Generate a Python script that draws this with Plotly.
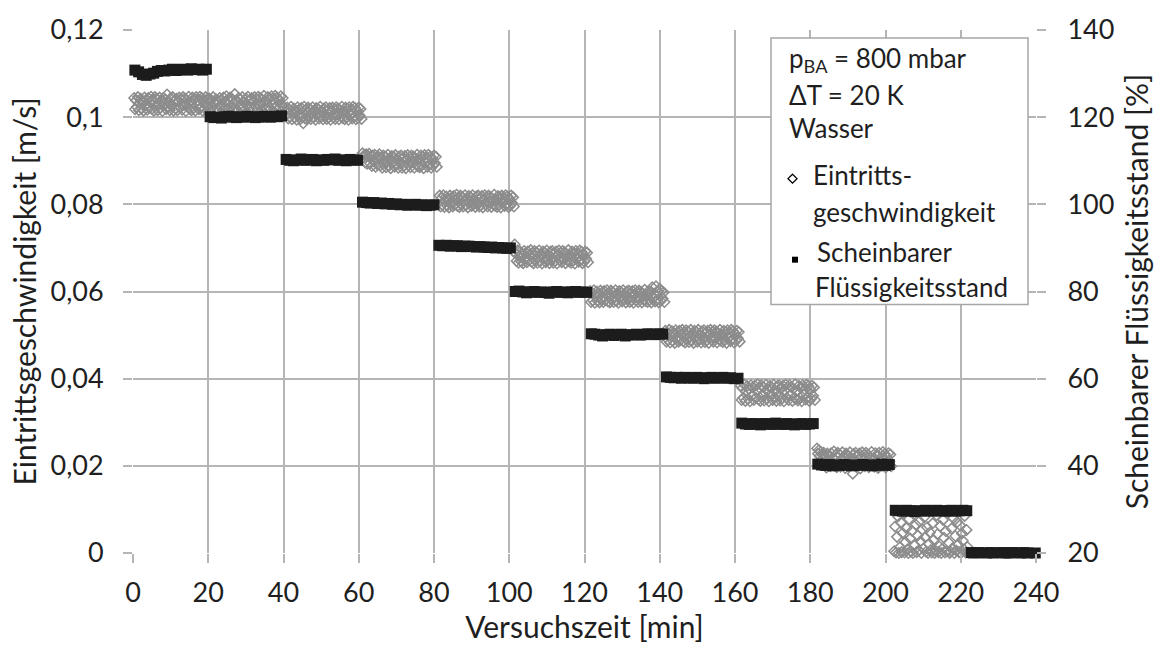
import plotly.graph_objects as go

# ---------------------------------------------------------------------------
# Eintrittsgeschwindigkeit: readings in 1e-4 m/s, one reading every 0.25 min
# ---------------------------------------------------------------------------
VEL_INTERVAL = 0.25  # min
vel_start = [0.3, 20.3, 41.0, 61.0, 81.5, 101.2, 121.5, 141.5, 161.5, 181.8, 202.3]

vel_000 = [1044, 1018, 1038, 1024, 1046, 1016, 1033, 1042, 1020, 1036, 1015, 1045, 1027, 1040, 1017, 1044, 1022, 1035, 1047, 1019,
           1039, 1015, 1046, 1026, 1043, 1016, 1032, 1045, 1021, 1037, 1014, 1044, 1029, 1041, 1018, 1052, 1023, 1034, 1016, 1044,
           1025, 1046, 1015, 1038, 1020, 1042, 1016, 1036, 1045, 1022, 1040, 1017, 1046, 1028, 1043, 1014, 1039, 1024, 1047, 1019,
           1035, 1016, 1045, 1021, 1041, 1015, 1046, 1027, 1038, 1018, 1047, 1023, 1044, 1015, 1037, 1020, 1046, 1026, 1042, 1017]
vel_020 = [1043, 1017, 1039, 1023, 1046, 1015, 1035, 1041, 1019, 1037, 1016, 1044, 1026, 1040, 1014, 1045, 1021, 1036, 1048, 1018,
           1040, 1016, 1045, 1025, 1042, 1017, 1033, 1053, 1020, 1038, 1015, 1044, 1028, 1041, 1019, 1046, 1022, 1035, 1017, 1043,
           1027, 1047, 1018, 1039, 1022, 1044, 1017, 1037, 1046, 1024, 1041, 1019, 1047, 1029, 1044, 1016, 1040, 1026, 1049, 1021,
           1037, 1019, 1046, 1023, 1043, 1018, 1048, 1029, 1040, 1021, 1049, 1025, 1045, 1019, 1039, 1023, 1048, 1028, 1044, 1022]
vel_040 = [1022, 997, 1016, 1001, 1024, 995, 1011, 1020, 999, 1014, 994, 1023, 1005, 1018, 996, 1021, 1000, 986, 1024, 997,
           1017, 995, 1022, 1004, 1019, 996, 1010, 1023, 999, 1015, 994, 1021, 1007, 1018, 997, 1024, 1001, 1013, 995, 1020,
           1003, 1023, 996, 1016, 999, 1021, 994, 1014, 1022, 1000, 1018, 996, 1023, 1006, 1020, 995, 1016, 1002, 1024, 998,
           1013, 995, 1022, 1000, 1019, 994, 1023, 1005, 1016, 997, 1024, 1001, 1021, 995, 1015, 998, 1022, 1004, 1019, 996]
vel_060 = [917, 908, 913, 896, 915, 893, 910, 916, 894, 911, 888, 912, 899, 914, 886, 906, 891, 909, 915, 889,
           907, 884, 912, 895, 910, 885, 900, 914, 888, 905, 883, 911, 897, 909, 886, 913, 891, 903, 884, 910,
           894, 912, 884, 906, 889, 911, 883, 904, 913, 890, 908, 885, 912, 897, 910, 884, 906, 892, 914, 887,
           903, 885, 912, 890, 909, 883, 913, 896, 906, 886, 914, 892, 910, 884, 905, 889, 912, 895, 909, 886]
vel_080 = [820, 795, 814, 799, 821, 794, 809, 818, 797, 813, 793, 820, 803, 816, 795, 819, 799, 811, 822, 796,
           815, 794, 820, 802, 817, 795, 808, 821, 798, 812, 793, 819, 805, 816, 796, 821, 800, 810, 794, 818,
           802, 820, 795, 814, 798, 819, 793, 811, 821, 799, 816, 795, 820, 804, 817, 794, 813, 800, 822, 797,
           811, 794, 819, 799, 816, 793, 820, 804, 813, 796, 821, 800, 818, 794, 812, 797, 820, 803, 816, 795]
vel_100 = [692, 708, 687, 670, 694, 666, 681, 691, 668, 686, 665, 693, 675, 689, 667, 692, 671, 684, 695, 668,
           688, 665, 693, 674, 690, 666, 680, 694, 669, 685, 664, 692, 677, 689, 667, 694, 672, 683, 665, 691,
           673, 693, 666, 687, 670, 692, 664, 684, 694, 671, 689, 667, 693, 676, 690, 665, 686, 672, 695, 669,
           683, 666, 692, 671, 689, 664, 693, 676, 686, 668, 694, 672, 691, 665, 685, 669, 692, 675, 689, 667]
vel_120 = [601, 576, 596, 580, 603, 574, 590, 600, 578, 595, 575, 602, 584, 598, 576, 601, 580, 593, 603, 577,
           597, 575, 602, 583, 599, 576, 589, 603, 578, 594, 574, 601, 586, 598, 577, 603, 581, 592, 575, 600,
           583, 602, 576, 596, 579, 601, 574, 593, 603, 580, 598, 576, 602, 585, 599, 575, 595, 581, 604, 578,
           592, 576, 601, 580, 598, 575, 610, 585, 595, 577, 612, 581, 600, 575, 606, 578, 601, 584, 598, 576]
vel_140 = [510, 485, 505, 489, 512, 483, 499, 509, 487, 504, 482, 511, 493, 507, 485, 510, 489, 502, 512, 486,
           506, 483, 511, 492, 508, 484, 498, 512, 487, 503, 482, 510, 495, 507, 485, 512, 490, 501, 483, 509,
           492, 511, 484, 505, 488, 510, 482, 502, 512, 489, 507, 485, 511, 494, 508, 483, 504, 490, 512, 487,
           501, 484, 510, 489, 507, 482, 511, 494, 504, 486, 512, 490, 509, 483, 503, 487, 510, 493, 507, 485]
vel_160 = [384, 351, 378, 356, 386, 349, 370, 383, 354, 376, 348, 385, 361, 380, 351, 384, 356, 374, 387, 352,
           379, 349, 385, 360, 381, 350, 368, 386, 354, 375, 348, 384, 364, 380, 351, 386, 357, 372, 349, 383,
           360, 385, 350, 377, 355, 384, 348, 373, 386, 356, 380, 351, 385, 362, 381, 349, 377, 357, 387, 353,
           372, 350, 384, 356, 380, 348, 385, 363, 376, 352, 386, 357, 383, 349, 375, 354, 384, 361, 380, 351]
vel_180 = [240, 228, 236, 222, 232, 205, 225, 230, 201, 221, 196, 228, 210, 224, 199, 229, 205, 218, 233, 200,
           225, 197, 230, 209, 226, 198, 215, 231, 202, 220, 195, 228, 212, 223, 199, 231, 205, 217, 182, 227,
           208, 230, 198, 222, 203, 228, 194, 218, 231, 204, 225, 199, 230, 211, 226, 197, 221, 206, 232, 201,
           216, 198, 229, 204, 225, 195, 230, 211, 219, 200, 232, 206, 227, 196, 220, 202, 229, 210, 226, 199]
vel_200 = [4, 61, 1, 37, 84, 0, 13, 70, 2, 46, 92, 1, 25, 57, 8, 0, 78, 33, 3, 51,
           0, 89, 18, 65, 2, 40, 6, 73, 27, 0, 54, 10, 82, 36, 3, 59, 0, 21, 47, 7,
           1, 68, 30, 0, 5, 87, 43, 2, 15, 62, 0, 9, 76, 35, 1, 50, 4, 94, 24, 0,
           3, 56, 11, 80, 0, 39, 6, 71, 19, 2, 64, 0, 45, 28, 8, 85, 1, 53, 14, 0]

vel_steps = [vel_000, vel_020, vel_040, vel_060, vel_080, vel_100,
             vel_120, vel_140, vel_160, vel_180, vel_200]

# ---------------------------------------------------------------------------
# Scheinbarer Flüssigkeitsstand: readings in %, one reading every 1 min
# ---------------------------------------------------------------------------
LVL_INTERVAL = 1.0  # min
lvl_start = [0.5, 20.5, 40.7, 61.0, 81.3, 101.6, 121.8, 141.8, 161.8, 182.0, 202.6, 222.8]

lvl_000 = [130.8, 130.4, 129.8, 129.6, 129.9, 130.1, 130.5, 130.7, 130.6, 130.8, 131.0, 130.7, 130.9, 131.0, 130.8, 131.1, 130.9, 131.0, 130.8, 131.0]
lvl_020 = [120.1, 119.9, 120.0, 119.8, 120.1, 120.2, 120.0, 119.9, 120.1, 120.0, 120.2, 120.1, 119.9, 120.0, 120.2, 120.1, 120.0, 120.2, 120.1, 120.3]
lvl_040 = [110.3, 110.1, 110.0, 110.2, 110.4, 110.1, 110.2, 110.3, 110.0, 110.2, 110.1, 110.3, 110.2, 110.4, 110.1, 110.2, 110.0, 110.3, 110.2, 110.1]
lvl_060 = [100.5, 100.4, 100.3, 100.4, 100.2, 100.3, 100.1, 100.2, 100.0, 100.1, 99.9, 100.0, 99.8, 99.9, 100.0, 99.8, 99.9, 99.7, 99.8, 99.9]
lvl_080 = [90.6, 90.5, 90.6, 90.4, 90.5, 90.5, 90.3, 90.4, 90.4, 90.3, 90.2, 90.3, 90.2, 90.1, 90.2, 90.0, 90.1, 90.0, 89.9, 90.0]
lvl_100 = [80.0, 80.1, 79.9, 79.7, 79.9, 80.0, 79.8, 79.9, 79.8, 79.6, 79.9, 80.0, 79.8, 79.9, 79.7, 79.9, 80.0, 79.8, 79.9, 79.8]
lvl_120 = [70.3, 70.2, 70.0, 69.8, 70.1, 70.2, 69.9, 70.1, 70.2, 69.8, 70.0, 70.1, 70.2, 70.0, 70.1, 70.3, 70.2, 70.1, 70.3, 70.2]
lvl_140 = [60.4, 60.3, 60.2, 60.3, 60.1, 60.3, 60.2, 60.1, 60.3, 60.2, 60.0, 60.2, 60.3, 60.1, 60.2, 60.3, 60.1, 60.2, 60.0, 60.1]
lvl_160 = [49.8, 49.6, 49.5, 49.7, 49.6, 49.4, 49.7, 49.6, 49.5, 49.8, 49.6, 49.5, 49.7, 49.6, 49.4, 49.6, 49.7, 49.5, 49.6, 49.7]
lvl_180 = [40.4, 40.2, 40.1, 40.3, 40.0, 40.2, 40.1, 40.3, 40.2, 40.0, 40.1, 40.2, 40.3, 40.1, 40.2, 40.0, 40.2, 40.4, 40.1, 40.3]
lvl_200 = [29.8, 29.7, 29.6, 29.8, 29.7, 29.5, 29.7, 29.6, 29.8, 29.7, 29.6, 29.8, 29.7, 29.6, 29.7, 29.8, 29.6, 29.7, 29.8, 29.7]
lvl_220 = [20.1, 20.0, 20.1, 19.9, 20.0, 20.1, 20.0, 19.9, 20.1, 20.0, 20.0, 20.1, 19.9, 20.0, 20.1, 20.0, 19.9, 20.0]

lvl_steps = [lvl_000, lvl_020, lvl_040, lvl_060, lvl_080, lvl_100,
             lvl_120, lvl_140, lvl_160, lvl_180, lvl_200, lvl_220]

# Axis ticks
x_ticks = [0, 20, 40, 60, 80, 100, 120, 140, 160, 180, 200, 220, 240]
vel_ticks = [0, 0.02, 0.04, 0.06, 0.08, 0.1, 0.12]
vel_ticktext = ["0", "0,02", "0,04", "0,06", "0,08", "0,1", "0,12"]
lvl_ticks = [20, 40, 60, 80, 100, 120, 140]

# ---------------------------------------------------------------------------
# Time axes from the sampling interval of each step
t_vel, v_vel = [], []
for t0, vals in zip(vel_start, vel_steps):
    for i, v in enumerate(vals):
        t_vel.append(t0 + i * VEL_INTERVAL)
        v_vel.append(v / 10000.0)

t_lvl, v_lvl = [], []
for t0, vals in zip(lvl_start, lvl_steps):
    for i, v in enumerate(vals):
        t_lvl.append(t0 + i * LVL_INTERVAL)
        v_lvl.append(v)

FONT = "Lato, 'Open Sans', sans-serif"
TXT = "#1f1f1f"
GRID = "#b5b5b5"
TICK_SIZE = 27
TITLE_SIZE = 30
LEGEND_SIZE = 26

fig = go.Figure()
fig.add_trace(go.Scatter(
    x=t_vel, y=v_vel, mode="markers", name="Eintrittsgeschwindigkeit",
    marker=dict(symbol="diamond-open", size=8, color="#8c8c8c", line=dict(width=1.5, color="#8c8c8c")),
    cliponaxis=False, yaxis="y"))
fig.add_trace(go.Scatter(
    x=t_lvl, y=v_lvl, mode="markers", name="Scheinbarer Flüssigkeitsstand",
    marker=dict(symbol="square", size=11, color="#1c1c1c", line=dict(width=0)),
    cliponaxis=False, yaxis="y2"))

W, H = 1161, 653
L, R, T, B = 133, 1036, 27, 553


def px(xp):
    return (xp - L) / (R - L)


def py(yp):
    return (B - yp) / (B - T)


fig.update_layout(
    width=W, height=H,
    margin=dict(l=L, r=W - R, t=T, b=H - B, pad=0),
    paper_bgcolor="white", plot_bgcolor="white",
    showlegend=False,
    separators=",.",
    font=dict(family=FONT, size=TICK_SIZE, color=TXT),
    xaxis=dict(
        range=[0, 240], tickvals=x_ticks, showgrid=True, gridcolor=GRID, gridwidth=1.5,
        zeroline=False, showline=False, ticks="outside", ticklen=9, tickwidth=1.5, tickcolor=GRID,
        ticklabelstandoff=7, tickfont=dict(size=TICK_SIZE),
        title=dict(text="Versuchszeit [min]", font=dict(size=TITLE_SIZE), standoff=7),
    ),
    yaxis=dict(
        range=[0, 0.12], tickvals=vel_ticks, ticktext=vel_ticktext, showgrid=True, gridcolor=GRID,
        gridwidth=1.5, zeroline=False, showline=False, ticks="outside", ticklen=9, tickwidth=1.5,
        tickcolor=GRID, ticklabelstandoff=14, tickfont=dict(size=TICK_SIZE),
        title=dict(text="Eintrittsgeschwindigkeit [m/s]", font=dict(size=TITLE_SIZE), standoff=4),
    ),
    yaxis2=dict(
        range=[20, 140], tickvals=lvl_ticks, overlaying="y", side="right", showgrid=False,
        zeroline=False, showline=False, ticks="outside", ticklen=9, tickwidth=1.5, tickcolor=GRID,
        ticklabelstandoff=16, tickfont=dict(size=TICK_SIZE),
        title=dict(text="Scheinbarer Flüssigkeitsstand [%]", font=dict(size=TITLE_SIZE), standoff=13),
    ),
)

# Legend box with test conditions
fig.add_shape(type="rect", xref="paper", yref="paper",
              x0=px(771), x1=px(1028), y0=py(303), y1=py(35),
              fillcolor="white", line=dict(color="#a6a6a6", width=1.5), layer="above")

legend_lines = [
    ("p<sub>BA</sub> = 800 mbar", 787, 57),
    ("ΔT = 20 K", 787, 92),
    ("Wasser", 787, 126),
    ("Eintritts-", 811, 173),
    ("geschwindigkeit", 811, 210),
    ("Scheinbarer", 815, 250),
    ("Flüssigkeitsstand", 813, 285),
]
for text, xp, yp in legend_lines:
    fig.add_annotation(xref="paper", yref="paper", x=px(xp), y=py(yp), text=text,
                       showarrow=False, xanchor="left", yanchor="middle",
                       font=dict(family=FONT, size=LEGEND_SIZE, color=TXT))

# Legend symbols: open diamond and small filled square
cx, cy, r = 792.5, 176.5, 4.5
fig.add_shape(type="path", xref="paper", yref="paper", layer="above",
              path=(f"M {px(cx - r)} {py(cy)} L {px(cx)} {py(cy - r)} "
                    f"L {px(cx + r)} {py(cy)} L {px(cx)} {py(cy + r)} Z"),
              line=dict(color="#000000", width=1.3), fillcolor="white")
fig.add_shape(type="rect", xref="paper", yref="paper", layer="above",
              x0=px(792), x1=px(798), y0=py(261), y1=py(255),
              line=dict(width=0), fillcolor="#000000")

fig.write_html("out.html")
